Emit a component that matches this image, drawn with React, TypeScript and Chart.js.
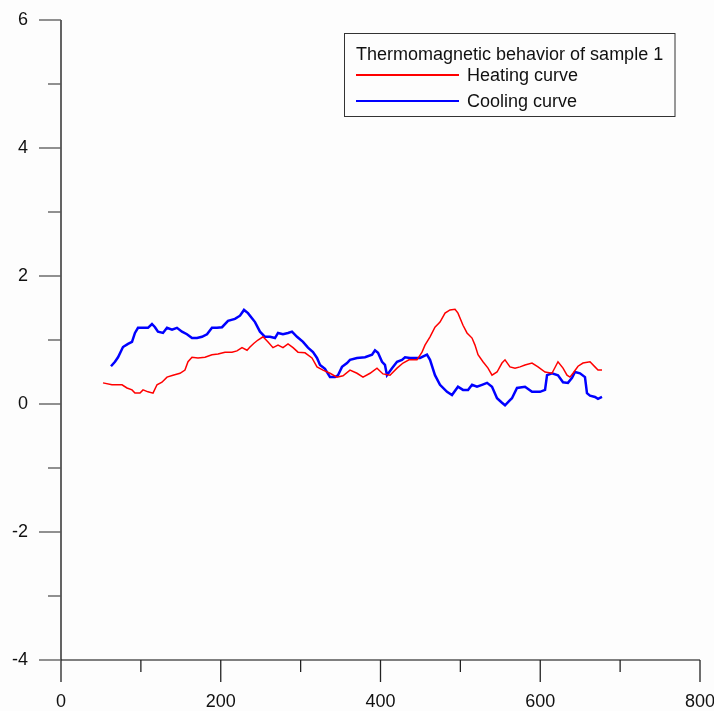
import React, { useEffect, useRef } from "react";
import { Chart, registerables } from "chart.js";

Chart.register(...registerables);

// ---------- data ----------
const heatingT = [52.6, 63.8, 76.4, 82.6, 88.9, 92.6, 98.9, 102.7, 108.9, 115.2, 120.2, 126.4, 132.7, 140.2, 149.0, 155.2, 159.0, 164.0, 171.5, 180.3, 189.0, 196.6, 205.3, 214.1, 220.3, 226.6, 232.9, 236.6, 241.6, 246.6, 252.9, 259.2, 265.4, 271.7, 277.9, 284.2, 290.5, 296.7, 305.5, 314.2, 320.5, 328.0, 336.8, 345.5, 353.1, 361.8, 370.6, 378.1, 386.9, 395.6, 403.1, 411.9, 420.7, 428.2, 435.7, 445.7, 452.0, 455.7, 462.0, 468.2, 474.5, 480.8, 487.0, 493.3, 497.0, 503.3, 508.3, 514.6, 518.3, 522.1, 528.3, 534.6, 539.6, 545.9, 552.1, 555.9, 562.1, 568.4, 574.7, 580.9, 589.7, 597.2, 606.0, 614.7, 622.2, 628.5, 633.5, 637.2, 641.0, 647.3, 653.5, 662.3, 668.5, 672.3, 677.3];
const heatingM = [0.33, 0.30, 0.30, 0.25, 0.22, 0.17, 0.17, 0.22, 0.19, 0.17, 0.30, 0.34, 0.42, 0.45, 0.48, 0.53, 0.66, 0.73, 0.72, 0.73, 0.77, 0.78, 0.81, 0.81, 0.83, 0.88, 0.84, 0.89, 0.95, 1.00, 1.05, 0.97, 0.88, 0.92, 0.88, 0.94, 0.88, 0.81, 0.80, 0.72, 0.58, 0.53, 0.48, 0.42, 0.44, 0.53, 0.48, 0.42, 0.48, 0.56, 0.47, 0.45, 0.56, 0.64, 0.69, 0.69, 0.81, 0.92, 1.05, 1.20, 1.28, 1.42, 1.47, 1.48, 1.42, 1.23, 1.11, 1.03, 0.92, 0.77, 0.66, 0.56, 0.45, 0.50, 0.64, 0.69, 0.58, 0.56, 0.58, 0.61, 0.64, 0.58, 0.50, 0.48, 0.66, 0.56, 0.45, 0.42, 0.48, 0.59, 0.64, 0.66, 0.58, 0.53, 0.53];

const coolingT = [62.6, 67.6, 71.4, 77.6, 83.9, 88.9, 92.6, 96.4, 102.7, 108.9, 113.9, 117.7, 121.4, 127.7, 132.7, 139.0, 145.2, 151.5, 157.7, 164.0, 170.3, 176.5, 182.8, 189.0, 195.3, 201.6, 209.1, 217.8, 224.1, 229.1, 234.1, 239.1, 242.9, 249.1, 255.4, 261.7, 267.9, 271.7, 277.9, 284.2, 289.2, 295.5, 303.0, 309.2, 315.5, 320.5, 324.3, 330.5, 336.8, 343.1, 346.8, 351.8, 358.1, 361.8, 370.6, 380.6, 389.4, 393.1, 396.9, 401.9, 405.6, 408.1, 414.4, 420.7, 426.9, 430.7, 436.9, 449.5, 458.2, 462.0, 468.2, 474.5, 483.3, 489.5, 497.0, 503.3, 509.6, 514.6, 520.8, 527.1, 533.4, 539.6, 545.9, 552.1, 555.9, 562.1, 564.6, 570.9, 580.9, 589.7, 599.7, 606.0, 608.5, 614.7, 622.2, 628.5, 634.7, 639.8, 643.5, 649.8, 656.0, 658.5, 662.3, 668.5, 672.3, 677.3];
const coolingM = [0.59, 0.66, 0.73, 0.89, 0.94, 0.97, 1.11, 1.19, 1.19, 1.19, 1.25, 1.20, 1.13, 1.11, 1.19, 1.16, 1.19, 1.13, 1.09, 1.03, 1.03, 1.05, 1.09, 1.19, 1.19, 1.20, 1.30, 1.33, 1.38, 1.47, 1.42, 1.34, 1.28, 1.13, 1.05, 1.05, 1.03, 1.11, 1.09, 1.11, 1.13, 1.05, 0.97, 0.88, 0.81, 0.72, 0.61, 0.55, 0.42, 0.42, 0.45, 0.58, 0.64, 0.69, 0.72, 0.73, 0.77, 0.84, 0.80, 0.66, 0.61, 0.45, 0.56, 0.66, 0.69, 0.73, 0.72, 0.72, 0.77, 0.69, 0.45, 0.30, 0.19, 0.14, 0.27, 0.22, 0.22, 0.30, 0.27, 0.30, 0.33, 0.27, 0.09, 0.02, -0.02, 0.06, 0.09, 0.25, 0.27, 0.19, 0.19, 0.22, 0.45, 0.48, 0.45, 0.34, 0.33, 0.41, 0.50, 0.48, 0.42, 0.17, 0.13, 0.11, 0.08, 0.11];

const xMajorTicks = [0, 200, 400, 600, 800];
const xMinorTicks = [100, 300, 500, 700];
const yMajorTicks = [-4, -2, 0, 2, 4, 6];
const yMinorTicks = [-3, -1, 1, 3, 5];

const legendTitle = "Thermomagnetic behavior of sample 1";
const seriesNames = ["Heating curve", "Cooling curve"];
const seriesColors = ["#ff0000", "#0000ff"];

const FONT = '"Liberation Sans", Arial, sans-serif';

function pairs(xs: number[], ys: number[]) {
  const n = Math.min(xs.length, ys.length);
  const out: { x: number; y: number }[] = [];
  for (let i = 0; i < n; i++) out.push({ x: xs[i], y: ys[i] });
  return out;
}

const bgPlugin = {
  id: "bg",
  beforeDraw(chart: any) {
    const { ctx, width, height } = chart;
    ctx.save();
    ctx.fillStyle = "#fdfdfd";
    ctx.fillRect(0, 0, width, height);
    ctx.restore();
  },
};

const axesPlugin = {
  id: "axesTicks",
  afterDraw(chart: any) {
    const { ctx, chartArea } = chart;
    const xs = chart.scales.x;
    const ys = chart.scales.y;
    const { left, bottom, top, right } = chartArea;
    ctx.save();
    ctx.lineWidth = 1.3;
    ctx.strokeStyle = "#555";
    ctx.beginPath();
    ctx.moveTo(left, bottom);
    ctx.lineTo(right, bottom);
    ctx.stroke();
    ctx.strokeStyle = "#111";
    ctx.beginPath();
    ctx.moveTo(left, top);
    ctx.lineTo(left, bottom);
    ctx.stroke();
    ctx.strokeStyle = "#222";
    xMajorTicks.forEach((v) => {
      const px = xs.getPixelForValue(v);
      ctx.beginPath();
      ctx.moveTo(px, bottom);
      ctx.lineTo(px, bottom + 22);
      ctx.stroke();
    });
    xMinorTicks.forEach((v) => {
      const px = xs.getPixelForValue(v);
      ctx.beginPath();
      ctx.moveTo(px, bottom);
      ctx.lineTo(px, bottom + 12);
      ctx.stroke();
    });
    ctx.strokeStyle = "#555";
    yMajorTicks.forEach((v) => {
      const py = ys.getPixelForValue(v);
      ctx.beginPath();
      ctx.moveTo(left, py);
      ctx.lineTo(left - 22, py);
      ctx.stroke();
    });
    yMinorTicks.forEach((v) => {
      const py = ys.getPixelForValue(v);
      ctx.beginPath();
      ctx.moveTo(left, py);
      ctx.lineTo(left - 13, py);
      ctx.stroke();
    });
    ctx.restore();
  },
};

const legendPlugin = {
  id: "boxLegend",
  afterDraw(chart: any) {
    const { ctx } = chart;
    ctx.save();
    ctx.strokeStyle = "#333";
    ctx.lineWidth = 1;
    ctx.strokeRect(344.5, 33.5, 330.5, 83);
    ctx.font = `18px ${FONT}`;
    ctx.fillStyle = "#111";
    ctx.textBaseline = "middle";
    ctx.textAlign = "left";
    ctx.fillText(legendTitle, 356, 55);
    chart.data.datasets.forEach((ds: any, i: number) => {
      const yy = 75 + i * 26;
      ctx.strokeStyle = ds.borderColor;
      ctx.lineWidth = 2;
      ctx.beginPath();
      ctx.moveTo(356, yy);
      ctx.lineTo(459, yy);
      ctx.stroke();
      ctx.fillStyle = "#111";
      ctx.fillText(ds.label, 467, yy + 1);
    });
    ctx.restore();
  },
};

function zeroPad(scale: any) {
  scale.paddingLeft = 0;
  scale.paddingRight = 0;
  scale.paddingTop = 0;
  scale.paddingBottom = 0;
}

export default function App() {
  const canvasRef = useRef<HTMLCanvasElement | null>(null);

  useEffect(() => {
    if (!canvasRef.current) return;
    const chart = new Chart(canvasRef.current, {
      type: "line",
      data: {
        datasets: [
          {
            label: seriesNames[0],
            data: pairs(heatingT, heatingM),
            borderColor: seriesColors[0],
            borderWidth: 1.5,
            pointRadius: 0,
            tension: 0,
            fill: false,
          },
          {
            label: seriesNames[1],
            data: pairs(coolingT, coolingM),
            borderColor: seriesColors[1],
            borderWidth: 2.5,
            pointRadius: 0,
            tension: 0,
            fill: false,
          },
        ],
      },
      options: {
        responsive: false,
        animation: false,
        layout: { padding: { top: 20, right: 14, left: 0, bottom: 0 } },
        plugins: {
          legend: { display: false },
          tooltip: { enabled: false },
        },
        scales: {
          x: {
            type: "linear",
            min: 0,
            max: 800,
            grid: { display: false, drawTicks: false },
            border: { display: false },
            afterBuildTicks: (scale: any) => {
              scale.ticks = xMajorTicks.map((v) => ({ value: v }));
            },
            afterFit: (scale: any) => {
              scale.height = 51;
              zeroPad(scale);
            },
            ticks: {
              padding: 31,
              maxRotation: 0,
              color: "#111",
              font: { family: FONT, size: 18 },
            },
          },
          y: {
            type: "linear",
            min: -4,
            max: 6,
            grid: { display: false, drawTicks: false },
            border: { display: false },
            afterBuildTicks: (scale: any) => {
              scale.ticks = yMajorTicks.map((v) => ({ value: v }));
            },
            afterFit: (scale: any) => {
              scale.width = 61;
              zeroPad(scale);
            },
            ticks: {
              padding: 33,
              color: "#111",
              font: { family: FONT, size: 18 },
            },
          },
        },
      },
      plugins: [bgPlugin, axesPlugin, legendPlugin],
    });
    return () => chart.destroy();
  }, []);

  return (
    <div style={{ position: "fixed", left: 0, top: 0, width: 714, height: 711 }}>
      <canvas ref={canvasRef} width={714} height={711} style={{ display: "block" }} />
    </div>
  );
}
